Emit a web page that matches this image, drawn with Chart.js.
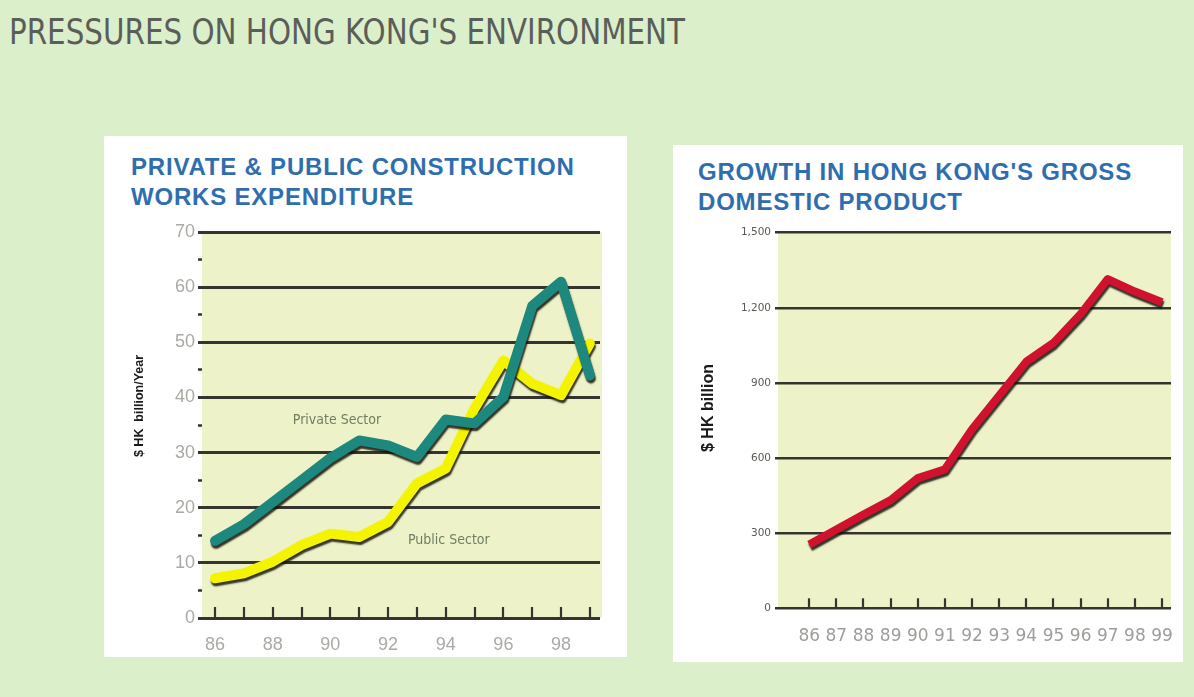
<!DOCTYPE html>
<html><head><meta charset="utf-8">
<script src="https://cdn.jsdelivr.net/npm/chart.js@4.4.1/dist/chart.umd.min.js"></script>
<style>
html,body{margin:0;padding:0;}
body{width:1194px;height:697px;background:#dcefcb;position:relative;overflow:hidden;font-family:"Liberation Sans",Arial,sans-serif;}
#title{position:absolute;left:9px;top:15px;font-family:"Liberation Sans Narrow","DejaVu Sans Condensed","Liberation Sans",sans-serif;font-size:35px;color:#5b5e58;white-space:nowrap;transform-origin:0 0;line-height:1;}
.panel{position:absolute;background:#fff;}
.ptitle{position:absolute;color:#2f6eae;font-weight:bold;font-size:24px;line-height:30px;white-space:nowrap;letter-spacing:0.8px;}
canvas{position:absolute;}
</style></head>
<body>
<div id="title">PRESSURES ON HONG KONG'S ENVIRONMENT</div>
<div class="panel" style="left:104px;top:136px;width:523px;height:521px;">
  <div class="ptitle" style="left:27px;top:16px;">PRIVATE &amp; PUBLIC CONSTRUCTION<br>WORKS EXPENDITURE</div>
</div>
<div class="panel" style="left:673px;top:145px;width:510px;height:517px;">
  <div class="ptitle" style="left:25px;top:12px;">GROWTH IN HONG KONG'S GROSS<br>DOMESTIC PRODUCT</div>
</div>
<div style="position:absolute;left:104px;top:136px;width:523px;height:521px;"><canvas id="c1" width="523" height="521"></canvas></div>
<div style="position:absolute;left:673px;top:145px;width:510px;height:517px;"><canvas id="c2" width="510" height="517"></canvas></div>
<script>
// ---- data ----
const years = [86, 87, 88, 89, 90, 91, 92, 93, 94, 95, 96, 97, 98, 99];
const privateSector = [14, 17, 21, 25, 29, 32.2, 31.3, 29.2, 36, 35.3, 40.1, 56.6, 61, 44];
const publicSector  = [7.2, 8.1, 10.2, 13.2, 15.3, 14.7, 17.4, 24.4, 27.1, 38, 46.7, 42.5, 40.4, 49.8];
const gdp = [255, 315, 375, 432, 520, 555, 715, 850, 985, 1060, 1175, 1315, 1265, 1222];
const leftYTicks = [0, 10, 20, 30, 40, 50, 60, 70];
const rightYTicks = [0, 300, 600, 900, 1200, 1500];
const seriesLabels = ['Private Sector', 'Public Sector'];
const leftYTitle = '$ HK  billion/Year';
const rightYTitle = '$ HK billion';

// page title fit
(function(){
  const t = document.getElementById('title');
  const w = t.getBoundingClientRect().width;
  t.style.transform = 'scaleX(' + (676 / w) + ')';
})();

const GRID = '#34352e';
const pts = (arr) => years.map((y, i) => ({x: y, y: arr[i]}));

const bgPlugin = {
  id: 'plotbg',
  beforeDraw(chart, args, opts) {
    const a = chart.chartArea, ctx = chart.ctx;
    ctx.save();
    ctx.fillStyle = opts.color || '#eef2c8';
    ctx.fillRect(a.left, a.top, a.right - a.left + (opts.extraRight || 0), a.bottom - a.top);
    ctx.restore();
  }
};
const xTickPlugin = {
  id: 'xticks',
  beforeDatasetsDraw(chart, args, opts) {
    const ctx = chart.ctx, xs = chart.scales.x, a = chart.chartArea;
    ctx.save();
    ctx.strokeStyle = GRID;
    ctx.lineWidth = 2.2;
    years.forEach(y => {
      const px = Math.round(xs.getPixelForValue(y));
      ctx.beginPath();
      ctx.moveTo(px, a.bottom);
      ctx.lineTo(px, a.bottom - opts.len);
      ctx.stroke();
    });
    ctx.restore();
  }
};
const shadowPlugin = {
  id: 'lineshadow',
  beforeDatasetDraw(chart) {
    const ctx = chart.ctx;
    ctx.save();
    ctx.shadowColor = 'rgba(20,20,10,0.85)';
    ctx.shadowOffsetX = 1;
    ctx.shadowOffsetY = 3;
    ctx.shadowBlur = 1.5;
  },
  afterDatasetDraw(chart) { chart.ctx.restore(); }
};
const yTitlePlugin = {
  id: 'ytitle',
  afterDraw(chart, args, opts) {
    const ctx = chart.ctx;
    ctx.save();
    ctx.translate(opts.x, opts.y);
    ctx.rotate(-Math.PI / 2);
    ctx.font = opts.font;
    ctx.fillStyle = '#1a1a1a';
    ctx.textAlign = 'center';
    ctx.textBaseline = 'middle';
    ctx.fillText(opts.text, 0, 0);
    ctx.restore();
  }
};
const seriesLabelPlugin = {
  id: 'serieslabels',
  afterDatasetsDraw(chart, args, opts) {
    const ctx = chart.ctx, xs = chart.scales.x, ys = chart.scales.y;
    ctx.save();
    ctx.font = opts.font;
    ctx.fillStyle = opts.color;
    ctx.textAlign = 'center';
    ctx.textBaseline = 'middle';
    opts.items.forEach(it => ctx.fillText(it.text, xs.getPixelForValue(it.x), ys.getPixelForValue(it.y)));
    ctx.restore();
  }
};

// ---- left chart ----
new Chart(document.getElementById('c1'), {
  type: 'line',
  data: {
    datasets: [
      {label: seriesLabels[0], data: pts(privateSector), borderColor: '#1d897e', borderWidth: 10, pointRadius: 0, tension: 0, borderCapStyle: 'round', borderJoinStyle: 'round'},
      {label: seriesLabels[1], data: pts(publicSector), borderColor: '#f4f400', borderWidth: 10, pointRadius: 0, tension: 0, borderCapStyle: 'round', borderJoinStyle: 'round'}
    ]
  },
  options: {
    responsive: false, animation: false,
    layout: {padding: {top: 96, right: 27, left: 0, bottom: 0}},
    plugins: {
      legend: {display: false}, tooltip: {enabled: false},
      plotbg: {color: '#eef2c8', extraRight: 2},
      xticks: {len: 11},
      ytitle: {x: 36, y: 270, text: leftYTitle, font: 'bold 12.5px "Liberation Sans", Arial, sans-serif'},
      serieslabels: {font: '14px "Liberation Sans Narrow","DejaVu Sans Condensed","Liberation Sans",sans-serif', color: '#6f7d66',
        items: [{text: seriesLabels[0], x: 90.23, y: 35.9}, {text: seriesLabels[1], x: 94.11, y: 14.1}]}
    },
    scales: {
      x: {
        type: 'linear', min: 85.55, max: 99.35,
        afterBuildTicks: s => { s.ticks = years.map(v => ({value: v})); },
        afterFit: s => { s.height = 39; },
        grid: {display: false}, border: {display: false},
        ticks: {autoSkip: false, maxRotation: 0, padding: 8, color: '#a9aaa4',
          font: {family: '"Liberation Sans", Arial, sans-serif', size: 18},
          callback: v => (v % 2 === 0 ? String(v) : '')}
      },
      y: {
        min: 0, max: 70,
        afterBuildTicks: s => {
          const t = [];
          for (let v = 0; v <= 70; v += 5) t.push({value: v});
          s.ticks = t;
        },
        afterFit: s => { s.width = 98; },
        border: {display: false},
        grid: {
          lineWidth: 3, tickLength: 4, drawTicks: true,
          color: c => (leftYTicks.includes(c.tick.value) ? GRID : 'rgba(0,0,0,0)'),
          tickColor: GRID, tickWidth: c => (leftYTicks.includes(c.tick.value) ? 3 : 2.5)
        },
        ticks: {padding: 3, color: '#a9aaa4', font: {family: '"Liberation Sans", Arial, sans-serif', size: 18},
          callback: v => (leftYTicks.includes(v) ? String(v) : '')}
      }
    }
  },
  plugins: [bgPlugin, xTickPlugin, shadowPlugin, yTitlePlugin, seriesLabelPlugin]
});

// ---- right chart ----
new Chart(document.getElementById('c2'), {
  type: 'line',
  data: {
    datasets: [
      {label: 'GDP', data: pts(gdp), borderColor: '#d1122e', borderWidth: 8, pointRadius: 0, tension: 0, borderCapStyle: 'butt', borderJoinStyle: 'round'}
    ]
  },
  options: {
    responsive: false, animation: false,
    layout: {padding: {top: 87.7, right: 5, left: 0, bottom: 0}},
    plugins: {
      legend: {display: false}, tooltip: {enabled: false},
      plotbg: {color: '#eef2c8', extraRight: 0},
      xticks: {len: 10},
      ytitle: {x: 36, y: 263, text: rightYTitle, font: 'bold 16px "Liberation Sans", Arial, sans-serif'}
    },
    scales: {
      x: {
        type: 'linear', min: 84.85, max: 99.33,
        afterBuildTicks: s => { s.ticks = years.map(v => ({value: v})); },
        afterFit: s => { s.height = 53.7; },
        grid: {display: false}, border: {display: false},
        ticks: {autoSkip: false, maxRotation: 0, padding: 10, color: '#9d9e9a',
          font: {family: '"DejaVu Sans", sans-serif', size: 17},
          callback: v => String(v)}
      },
      y: {
        min: 0, max: 1500,
        afterBuildTicks: s => { s.ticks = rightYTicks.map(v => ({value: v})); },
        afterFit: s => { s.width = 105; },
        border: {display: false},
        grid: {lineWidth: 2.5, tickLength: 3, drawTicks: true, color: GRID, tickColor: GRID},
        ticks: {padding: 4, color: '#5a5a55', font: {family: '"DejaVu Sans", sans-serif', size: 10.5},
          callback: v => v.toLocaleString('en-US')}
      }
    }
  },
  plugins: [bgPlugin, xTickPlugin, shadowPlugin, yTitlePlugin]
});
</script>
</body></html>
